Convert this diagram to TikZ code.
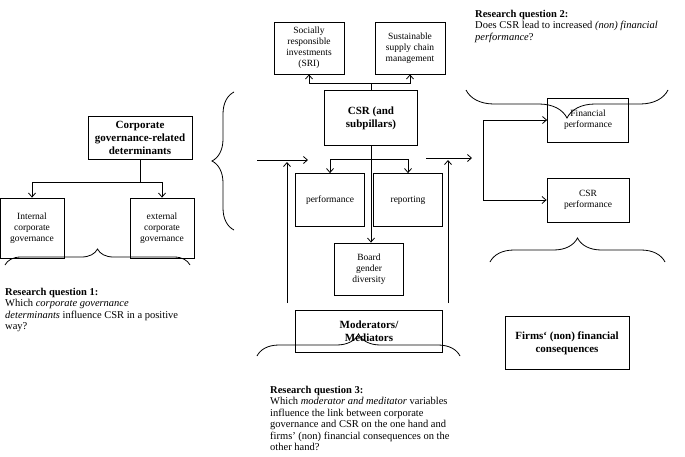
\documentclass[tikz,border=0pt]{standalone}
\usepackage{fontspec}
\setmainfont{Liberation Serif}
\usetikzlibrary{positioning,arrows.meta,decorations.pathreplacing}
\tikzstyle{box}=[draw, thick, align=center, inner sep=1pt, font=\fontsize{9.5}{11}\selectfont]
\tikzstyle{bigbox}=[box, font=\fontsize{11}{13}\selectfont\bfseries]
\tikzstyle{arr}=[thick, -{Straight Barb[length=4pt,width=7pt]}]
\tikzstyle{brc}=[thick, decorate, decoration={brace, amplitude=10pt}]
\tikzstyle{rq}=[align=left, anchor=north west, inner sep=0pt, font=\fontsize{10.5}{11.5}\selectfont]

\begin{document}
\begin{tikzpicture}[x=1pt, y=-1pt]
    \useasboundingbox (0,0) rectangle (685,456);

    % linke Seite
    \node[bigbox, minimum width=104, minimum height=43] (cgd) at (140,138) {Corporate\\governance-related\\determinants};
    \node[box, minimum width=64, minimum height=60] (icg) at (32,228) {Internal\\corporate\\governance};
    \node[box, minimum width=64, minimum height=60] (ecg) at (162,228) {external\\corporate\\governance};
    \draw[thick] (cgd.south) -- (140,182) coordinate (cgj);
    \draw[arr] (cgj) -| (icg.north);
    \draw[arr] (cgj) -| (ecg.north);
    \draw[brc, decoration={amplitude=16pt}] (5,265) -- (190,265);
    \node[rq] (rq1) at (5,288) {\textbf{Research question 1:}\\Which \textit{corporate governance}\\\textit{determinants} influence CSR in a positive\\way?};

    % Mitte
    \node[bigbox, minimum width=93, minimum height=55] (csr) at (371,118) {CSR (and\\subpillars)};
    \node[box, minimum width=70, minimum height=52] (sri) at (309,48) {Socially\\responsible\\investments\\(SRI)};
    \node[box, minimum width=70, minimum height=52] (sscm) at (410,48) {Sustainable\\supply chain\\management};
    \node[box, minimum width=69, minimum height=53] (perf) at (330,200) {performance};
    \node[box, minimum width=69, minimum height=53] (rep) at (408,200) {reporting};
    \node[box, minimum width=69, minimum height=52] (bgd) at (369,269) {Board\\gender\\diversity};
    \node[bigbox, minimum width=147, minimum height=42] (mod) at (369,331) {Moderators/\\Mediators};
    \draw[thick] (csr.north) -- ++(0,-7) coordinate (up);
    \draw[arr] (up) -| (sri.south);
    \draw[arr] (up) -| (sscm.south);
    \draw[thick] (csr.south) -- ++(0,13) coordinate (dn);
    \draw[arr] (dn) -| (perf.north);
    \draw[arr] (dn) -| (rep.north);
    \draw[arr] (dn) -- (dn|-bgd.north);
    \draw[brc, decoration={amplitude=22pt}] (234,230) -- (234,92);
    \coordinate (cin) at (308,160);
    \draw[arr] (257,160) -- (cin);
    \draw[arr] (287,303) -- (287,162);
    \draw[arr] (426,158) -- (472,158);
    \draw[arr] (448,303) -- (448,160);
    \draw[brc, decoration={amplitude=22pt}] (257,356) -- (460,356);
    \node[rq] (rq3) at (270,386) {\textbf{Research question 3:}\\Which \textit{moderator and meditator} variables\\influence the link between corporate\\governance and CSR on the one hand and\\firms’ (non) financial consequences on the\\other hand?};

    % rechte Seite
    \node[rq] (rq2) at (475,10) {\textbf{Research question 2:}\\Does CSR lead to increased \textit{(non) financial}\\\textit{performance}?};
    \draw[brc, decoration={amplitude=28pt}] (668,90) -- (466,90);
    \node[box, minimum width=81, minimum height=44] (fp) at (588,120) {Financial\\performance};
    \node[box, minimum width=82, minimum height=44] (cp) at (588,200) {CSR\\performance};
    \coordinate (rj) at (483,158);
    \draw[arr] (rj) |- (fp.west);
    \draw[arr] (rj) |- (cp.west);
    \draw[brc, decoration={amplitude=24pt}] (490,262) -- (665,262);
    \node[bigbox, minimum width=124, minimum height=53] (fnc) at (567,343) {Firms‘ (non) financial\\consequences};
\end{tikzpicture}
\end{document}
